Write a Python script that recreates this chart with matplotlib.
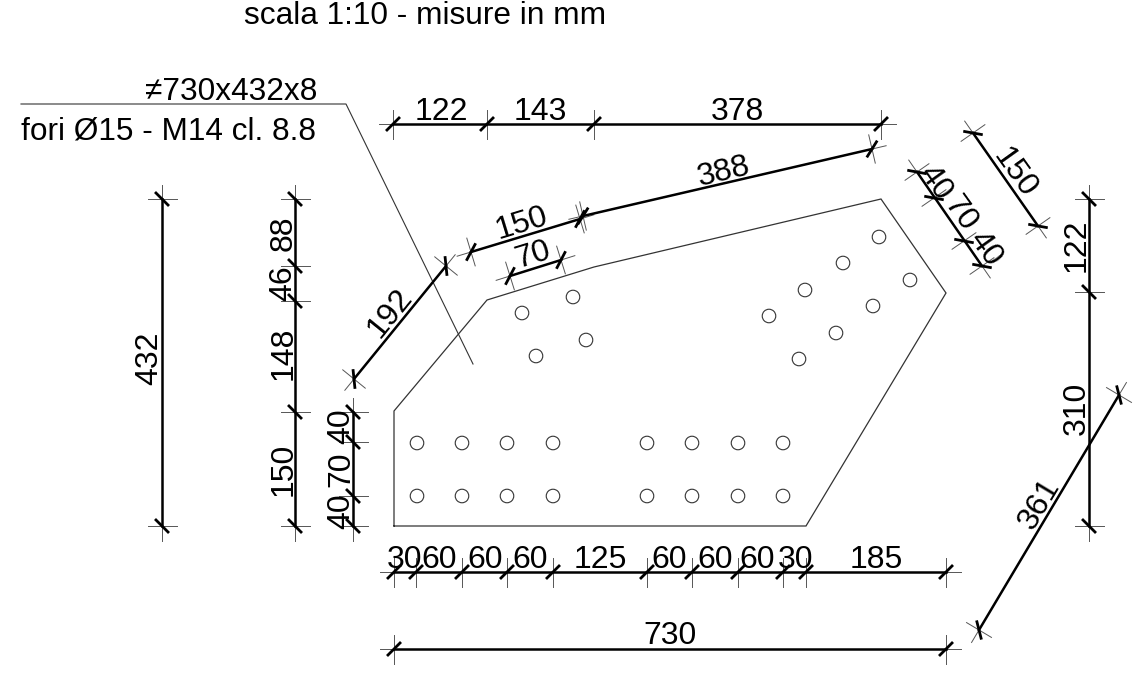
import numpy as np
import matplotlib
matplotlib.use("Agg")
import matplotlib.pyplot as plt

plt.rcParams['font.family'] = ['Liberation Sans', 'DejaVu Sans']

# Plate outline and holes (positions, px)
plate_x = [394, 394, 487, 594, 881, 946, 806, 394]
plate_y = [526, 411, 300, 267, 199, 293, 526, 526]

holes_x = [417, 462, 507, 553, 647, 692, 738, 783,
           417, 462, 507, 553, 647, 692, 738, 783,
           522, 573, 536, 586,
           769, 805, 843, 879, 799, 836, 873, 910]
holes_y = [443, 443, 443, 443, 443, 443, 443, 443,
           496, 496, 496, 496, 496, 496, 496, 496,
           313, 297, 356, 340,
           316, 290, 263, 237, 359, 333, 306, 280]

leader_x = [21, 346, 473]
leader_y = [104, 104, 364]

# Dimension chains
chain_top = [(393, 124), (487, 124), (594, 124), (881, 124)]
chain_192 = [(354, 379), (446, 266)]
chain_150 = [(471, 252), (580, 219)]
chain_388 = [(583, 216), (872, 149)]
chain_70 = [(510, 276), (561, 260)]
chain_right = [(917, 172), (934, 198), (964, 241), (982, 266)]
chain_150r = [(973, 133), (1038, 226)]
chain_122 = [(1089, 199), (1089, 292), (1089, 526)]
chain_361 = [(1119, 395), (979, 630)]
chain_432 = [(162, 199), (162, 526)]
chain_left = [(295, 199), (295, 266), (295, 301), (295, 412), (295, 526)]
chain_left2 = [(353, 412), (353, 442), (353, 496), (353, 526)]
chain_bottom = [(394, 572), (416, 572), (462, 572), (507, 572), (553, 572), (647, 572),
                (692, 572), (738, 572), (783, 572), (806, 572), (946, 572)]
chain_730 = [(394, 649), (946, 649)]

chains = [chain_top, chain_192, chain_150, chain_388, chain_70, chain_right, chain_150r,
          chain_122, chain_361, chain_432, chain_left, chain_left2, chain_bottom, chain_730]

# Labels: text, x, y, rotation
labels = [
    ("122", 441, 110, 0), ("143", 540, 110, 0), ("378", 737, 110, 0),
    ("150", 521, 221, 17), ("70", 532, 253, 17), ("388", 723, 170, 13.5),
    ("192", 388, 312, 51), ("150", 1017, 172, -54.5),
    ("40", 937, 181, -54.5), ("70", 962, 212, -54.5), ("40", 987, 247, -54.5),
    ("122", 1074, 245, 90), ("310", 1074, 408, 90), ("361", 1037, 503, 59),
    ("432", 147, 358, 90), ("88", 281, 233, 90), ("46", 281, 283, 90),
    ("148", 281, 353, 90), ("150", 281, 469, 90),
    ("40", 339, 426, 90), ("70", 339, 469, 90), ("40", 339, 511, 90),
    ("30", 405, 557, 0), ("60", 439, 557, 0), ("60", 485, 557, 0), ("60", 530, 557, 0),
    ("125", 600, 557, 0), ("60", 669, 557, 0), ("60", 715, 557, 0), ("60", 757, 557, 0),
    ("30", 796, 557, 0), ("185", 876, 557, 0), ("730", 670, 634, 0),
]

fig = plt.figure(figsize=(11.47, 6.74), dpi=100)
ax = fig.add_axes([0, 0, 1, 1])
ax.set_xlim(0, 1147)
ax.set_ylim(674, 0)
ax.axis('off')


def draw_chain(ax, pts, ext=14.5, tick=8.5):
    pts = np.array(pts, dtype=float)
    d = pts[-1] - pts[0]
    d = d / np.hypot(*d)
    n = np.array([-d[1], d[0]])
    c, s = np.cos(np.pi / 4), np.sin(np.pi / 4)
    slash = np.array([d[0] * c + d[1] * s, -d[0] * s + d[1] * c])
    # thin extension beyond the ends
    a, b = pts[0] - d * ext, pts[-1] + d * ext
    ax.plot([a[0], b[0]], [a[1], b[1]], color='#555555', lw=0.7, zorder=1)
    ax.plot(pts[[0, -1], 0], pts[[0, -1], 1], color='black', lw=1.8, zorder=2)
    for p in pts:
        u, v = p - n * ext, p + n * ext
        ax.plot([u[0], v[0]], [u[1], v[1]], color='#555555', lw=0.7, zorder=1)
        u, v = p - slash * tick, p + slash * tick
        ax.plot([u[0], v[0]], [u[1], v[1]], color='black', lw=2.0, zorder=2)


ax.plot(plate_x, plate_y, color='#333333', lw=0.9, solid_joinstyle='miter')
ax.plot(leader_x, leader_y, color='#333333', lw=0.8)
ax.scatter(holes_x, holes_y, s=95, facecolors='none', edgecolors='#333333', linewidths=0.8)

for c in chains:
    draw_chain(ax, c)

for txt, x, y, rot in labels:
    # shift towards the foot of the text, va='center' sits a bit high
    off = np.radians(rot)
    ax.text(x + 2.5 * np.sin(off), y + 2.5 * np.cos(off), txt, fontsize=23,
            rotation=rot, rotation_mode='anchor', ha='center', va='center', color='black')

ax.text(425, 16, "scala 1:10 - misure in mm", fontsize=22.8, ha='center', va='center')
ax.text(317, 92, "≠730x432x8", fontsize=22.8, ha='right', va='center')
ax.text(21, 132, "fori Ø15 - M14 cl. 8.8", fontsize=22.8, ha='left', va='center')

fig.savefig("out.png", dpi=100)
